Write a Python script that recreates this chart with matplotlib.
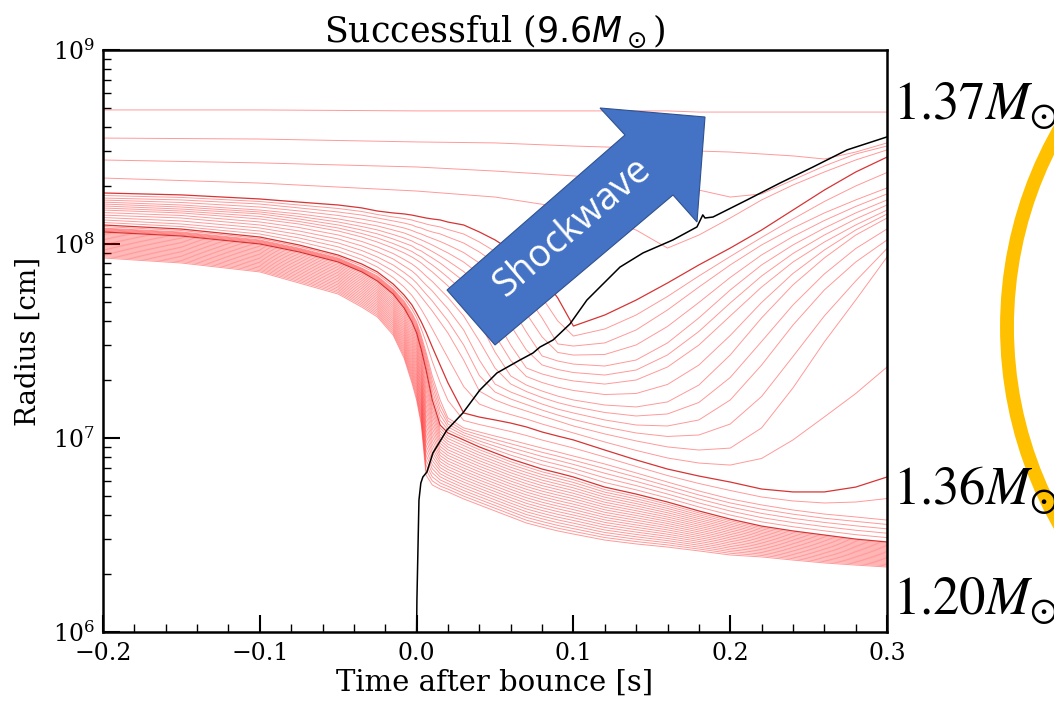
import matplotlib

matplotlib.use("Agg")

import matplotlib.pyplot as plt  # noqa: E402
import numpy as np  # noqa: E402
from matplotlib.patches import Ellipse, Polygon  # noqa: E402
from matplotlib.ticker import MultipleLocator, LogLocator  # noqa: E402

plt.rcParams["font.family"] = "DejaVu Serif"

# time knots [s] shared by the inner mass shells
t_knots = np.array([-0.2, -0.15, -0.1, -0.075, -0.05, -0.035, -0.025, -0.015, -0.008, -0.003,
                    0.0, 0.003, 0.006, 0.01, 0.015, 0.02, 0.03, 0.04, 0.05, 0.06,
                    0.07, 0.08, 0.09, 0.1, 0.12, 0.14, 0.16, 0.18, 0.2, 0.22,
                    0.24, 0.26, 0.28, 0.3])

# log10 radius [cm] of mass shells (inner -> outer)
shell_120 = [7.928, 7.902, 7.856, 7.799, 7.742, 7.675, 7.624, 7.531, 7.412, 7.284,
             7.196, 7.067, 6.809, 6.758, 6.737, 6.722, 6.686, 6.655, 6.624, 6.593,
             6.562, 6.541, 6.521, 6.505, 6.474, 6.454, 6.438, 6.418, 6.397, 6.387,
             6.371, 6.356, 6.345, 6.335]
shell_130 = [8.062, 8.041, 8.000, 7.959, 7.907, 7.856, 7.809, 7.742, 7.670, 7.598,
             7.541, 7.454, 7.351, 7.196, 7.067, 7.026, 6.990, 6.954, 6.923, 6.892,
             6.866, 6.840, 6.820, 6.799, 6.747, 6.711, 6.670, 6.624, 6.582, 6.546,
             6.521, 6.500, 6.479, 6.464]
shell_134 = [8.082, 8.062, 8.021, 7.979, 7.928, 7.876, 7.835, 7.768, 7.706, 7.644,
             7.598, 7.526, 7.443, 7.320, 7.196, 7.103, 7.052, 7.031, 7.010, 6.990,
             6.969, 6.948, 6.928, 6.907, 6.866, 6.820, 6.773, 6.727, 6.686, 6.655,
             6.629, 6.608, 6.593, 6.577]
shell_136 = [8.098, 8.077, 8.036, 7.995, 7.943, 7.897, 7.856, 7.794, 7.737, 7.686,
             7.644, 7.598, 7.546, 7.469, 7.376, 7.284, 7.129, 7.108, 7.093, 7.077,
             7.057, 7.031, 7.010, 6.990, 6.938, 6.887, 6.840, 6.804, 6.773, 6.737,
             6.722, 6.722, 6.747, 6.799]
shell_s1 = [8.124, 8.103, 8.067, 8.031, 7.985, 7.943, 7.907, 7.861, 7.820, 7.784,
            7.758, 7.727, 7.696, 7.655, 7.598, 7.541, 7.402, 7.242, 7.196, 7.165,
            7.139, 7.113, 7.088, 7.062, 7.021, 6.985, 6.954, 6.938, 6.948, 7.052,
            7.258, 7.495, 7.711, 7.933]
shell_s2 = [8.149, 8.134, 8.098, 8.067, 8.026, 7.990, 7.959, 7.923, 7.887, 7.861,
            7.840, 7.814, 7.789, 7.758, 7.711, 7.665, 7.557, 7.402, 7.278, 7.237,
            7.206, 7.175, 7.149, 7.129, 7.093, 7.067, 7.062, 7.093, 7.196, 7.376,
            7.582, 7.763, 7.907, 8.021]
shell_s3 = [8.175, 8.160, 8.129, 8.103, 8.067, 8.036, 8.010, 7.979, 7.954, 7.933,
            7.918, 7.902, 7.881, 7.856, 7.820, 7.784, 7.701, 7.598, 7.443, 7.320,
            7.273, 7.242, 7.216, 7.196, 7.170, 7.160, 7.186, 7.273, 7.428, 7.619,
            7.789, 7.928, 8.046, 8.134]
shell_s4 = [8.196, 8.180, 8.155, 8.129, 8.098, 8.072, 8.052, 8.026, 8.005, 7.990,
            7.974, 7.964, 7.948, 7.928, 7.902, 7.871, 7.809, 7.727, 7.619, 7.479,
            7.361, 7.330, 7.309, 7.294, 7.278, 7.299, 7.366, 7.479, 7.629, 7.778,
            7.907, 8.010, 8.098, 8.175]
shell_s5 = [8.216, 8.201, 8.175, 8.155, 8.129, 8.108, 8.093, 8.072, 8.057, 8.041,
            8.031, 8.021, 8.010, 7.995, 7.974, 7.954, 7.907, 7.845, 7.773, 7.680,
            7.546, 7.423, 7.397, 7.381, 7.371, 7.402, 7.490, 7.619, 7.763, 7.892,
            7.995, 8.082, 8.160, 8.227]
shell_s6 = [8.237, 8.227, 8.206, 8.186, 8.165, 8.149, 8.134, 8.119, 8.108, 8.098,
            8.088, 8.082, 8.072, 8.062, 8.052, 8.036, 8.005, 7.959, 7.902, 7.830,
            7.737, 7.619, 7.485, 7.474, 7.490, 7.557, 7.660, 7.778, 7.892, 7.995,
            8.082, 8.160, 8.227, 8.289]
shell_s7 = [8.263, 8.253, 8.232, 8.216, 8.201, 8.186, 8.170, 8.160, 8.155, 8.149,
            8.144, 8.139, 8.134, 8.129, 8.124, 8.113, 8.098, 8.062, 8.021, 7.969,
            7.907, 7.830, 7.722, 7.577, 7.634, 7.711, 7.799, 7.892, 7.979, 8.072,
            8.175, 8.278, 8.371, 8.448]

# outer shells, own time knots
t_outer = [-0.2, -0.1, 0.0, 0.05, 0.1, 0.14, 0.16, 0.18, 0.2, 0.22, 0.24, 0.26, 0.28, 0.3]
outer_a4 = [8.340, 8.314, 8.273, 8.242, 8.180, 8.072, 7.979, 8.046, 8.134, 8.227, 8.304, 8.371, 8.433, 8.485]
outer_a3 = [8.433, 8.418, 8.397, 8.376, 8.351, 8.325, 8.304, 8.278, 8.242, 8.258, 8.330, 8.402, 8.464, 8.505]
outer_a2 = [8.546, 8.541, 8.526, 8.521, 8.505, 8.495, 8.490, 8.479, 8.474, 8.464, 8.454, 8.438, 8.474, 8.521]
outer_a1 = [8.691, 8.691, 8.686, 8.686, 8.686, 8.686, 8.686, 8.680, 8.680, 8.680, 8.680, 8.680, 8.680, 8.680]

# shock radius
shock_t = [0.0, 0.0002, 0.0015, 0.0027, 0.004, 0.0066, 0.0104, 0.0193, 0.0295, 0.0403,
           0.0512, 0.0659, 0.0742, 0.0787, 0.087, 0.0978, 0.1086, 0.1169, 0.1297, 0.1444,
           0.1635, 0.1788, 0.1825, 0.1839, 0.189, 0.2107, 0.2317, 0.2528, 0.2745, 0.3]
shock_logr = [6.0, 6.165, 6.68, 6.768, 6.799, 6.825, 6.923, 7.041, 7.129, 7.247,
              7.335, 7.402, 7.438, 7.469, 7.505, 7.588, 7.711, 7.778, 7.881, 7.954,
              8.021, 8.088, 8.15, 8.134, 8.139, 8.227, 8.314, 8.397, 8.485, 8.552]

shell_labels = ["$1.37M_{\\odot}$", "$1.36M_{\\odot}$", "$1.20M_{\\odot}$"]


def between(a, b, n):
    a = np.asarray(a)
    b = np.asarray(b)
    return [a + (b - a) * w for w in np.linspace(0, 1, n + 2)[1:-1]]


light = dict(color="red", lw=0.7, alpha=0.4)
dark = dict(color="#d01010", lw=0.9, alpha=0.85)

fig = plt.figure(figsize=(10.54, 7.02), dpi=100)
ax = fig.add_axes([0.0977, 0.0997, 0.7439, 0.8291])

s_family = [shell_s1, shell_s2, shell_s3, shell_s4, shell_s5, shell_s6, shell_s7]
pairs = [(shell_120, shell_130, 20), (shell_130, shell_134, 4),
         (shell_134, shell_136, 1), (shell_136, shell_s1, 1)]
pairs += [(lo, hi, 1) for lo, hi in zip(s_family[:-1], s_family[1:])]
for lo, hi, n in pairs:
    for line in between(lo, hi, n):
        ax.plot(t_knots, 10 ** line, **light)

for shell in [shell_120, shell_134] + s_family[:-1]:
    ax.plot(t_knots, 10 ** np.asarray(shell), **light)
for shell in (shell_130, shell_136, shell_s7):
    ax.plot(t_knots, 10 ** np.asarray(shell), **dark)
for shell in (outer_a1, outer_a2, outer_a3, outer_a4):
    ax.plot(t_outer, 10 ** np.asarray(shell), **light)

ax.plot(shock_t, 10 ** np.asarray(shock_logr), color="black", lw=1.1, zorder=5)

ax.set_xlim(-0.2, 0.3)
ax.set_ylim(1e6, 1e9)
ax.set_yscale("log")
ax.xaxis.set_major_locator(MultipleLocator(0.1))
ax.xaxis.set_minor_locator(MultipleLocator(0.02))
ax.yaxis.set_minor_locator(LogLocator(base=10, subs=np.arange(2, 10)))
ax.tick_params(which="both", direction="in", top=False, right=False)
ax.tick_params(which="major", length=12, width=1.5, labelsize=17, pad=6)
ax.tick_params(axis="x", which="major", pad=7)
ax.tick_params(which="minor", length=6, width=1.0)
for spine in ax.spines.values():
    spine.set_linewidth(1.8)

ax.set_xlabel("Time after bounce [s]", fontsize=21, labelpad=3)
ax.set_ylabel("Radius [cm]", fontsize=20, labelpad=8)
ax.set_title("Successful ($9.6M_\\odot$)", fontsize=25, pad=6)

W, H = 1054, 702

# orange ring, partly off the right edge
ring = Ellipse((1405 / W, 1 - 327 / H), 2 * 398 / W, 2 * 398 / H, transform=fig.transFigure,
               fill=False, edgecolor="#FFC000", lw=10, zorder=2)
fig.add_artist(ring)

# blue block arrow
arrow_px = [(447, 290), (625, 135), (600, 108), (705, 117), (697, 222), (673, 195), (495, 345)]
arrow = Polygon([(x / W, 1 - y / H) for x, y in arrow_px], closed=True, transform=fig.transFigure,
                facecolor="#4472C4", edgecolor="#2F528F", lw=0.8, zorder=6)
fig.add_artist(arrow)
fig.text(572 / W, 1 - 228 / H, "Shockwave", rotation=40.5, color="white", fontsize=27,
         family="Open Sans", ha="center", va="center", rotation_mode="anchor", zorder=7)

for label, y in zip(shell_labels, (120, 505, 615)):
    fig.text(893 / W, 1 - y / H, label, fontsize=38, math_fontfamily="stix", va="baseline", zorder=8)

fig.savefig("out.png", dpi=100)
